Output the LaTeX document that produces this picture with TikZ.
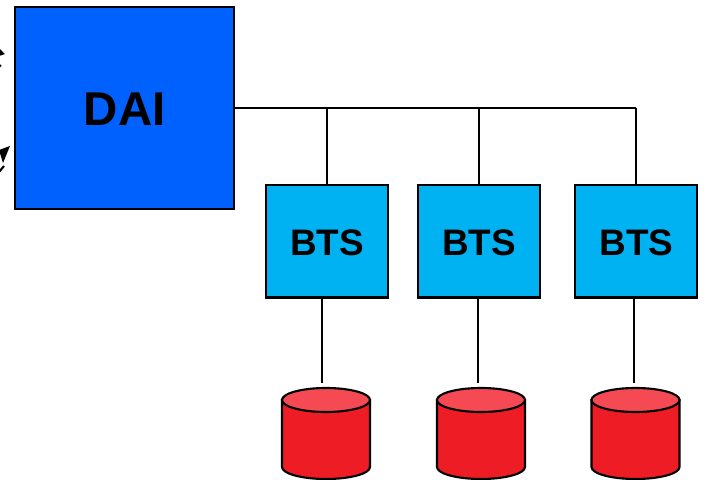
\documentclass[tikz,border=0pt]{standalone}
\usepackage{fontspec}
\setmainfont{Liberation Sans}
\usepackage{tikz}
\usetikzlibrary{calc}
\definecolor{daiblue}{HTML}{0061FF}
\definecolor{btsblue}{HTML}{00B2F2}
\definecolor{diskred}{HTML}{EE1C25}
\definecolor{disktop}{HTML}{F54A53}
\tikzset{
  daibox/.style={draw, line width=1.2pt, fill=daiblue, minimum width=124.6pt, minimum height=115pt, text height=20.3pt, text depth=0pt, font=\bfseries\fontsize{27}{27}\selectfont},
  btsbox/.style={draw, line width=1.2pt, fill=btsblue, minimum width=69.6pt, minimum height=64pt, text height=15.6pt, text depth=0pt, font=\bfseries\fontsize{21}{21}\selectfont},
  disk/.style={draw, line width=1.2pt, fill=diskred},
  disklid/.style={draw, line width=1.2pt, fill=disktop},
  link/.style={line width=1.2pt},
  buslink/.style={line width=1.5pt}
}

\begin{document}
\begin{tikzpicture}[x=0.02cm, y=-0.02cm]
      \useasboundingbox (0,0) rectangle (708,480);
      \clip (0,0) rectangle (708,480);

      \node[daibox] (dai) at (124.8,108) {DAI};

      \node[btsbox] (bts1) at (327,241.3) {BTS};
      \node[btsbox] (bts2) at (479,241.3) {BTS};
      \node[btsbox] (bts3) at (636.3,241.3) {BTS};

      % bus from the DAI box
      \coordinate (t1) at (bts1.north |- dai.east);
      \coordinate (t2) at (bts2.north |- dai.east);
      \coordinate (t3) at (bts3.north |- dai.east);
      \draw[buslink] (dai.east) -- (t1);
      \draw[link] (t1) -- (t3);
      \draw[link] (bts1.north) -- (t1);
      \draw[link] (bts2.north) -- (t2);
      \draw[link] (bts3.north) -- (t3);

      % lines down to the disks
      \coordinate (a1) at (322,298);
      \coordinate (b1) at (322,383);
      \coordinate (a2) at (478,298);
      \coordinate (b2) at (478,383);
      \coordinate (a3) at (634,298);
      \coordinate (b3) at (634,383);
      \draw[link] (a1) -- (b1);
      \draw[link] (a2) -- (b2);
      \draw[link] (a3) -- (b3);

      % disks
      \draw[disk] (282,400) -- (282,467) arc[start angle=180, end angle=360, x radius=44, y radius=-12] -- (370,400) -- cycle;
      \draw[disklid] (326,400) ellipse[x radius=44, y radius=12];
      \draw[disk] (437,400) -- (437,467) arc[start angle=180, end angle=360, x radius=44, y radius=-12] -- (525,400) -- cycle;
      \draw[disklid] (481,400) ellipse[x radius=44, y radius=12];
      \draw[disk] (591.5,400) -- (591.5,467) arc[start angle=180, end angle=360, x radius=44, y radius=-12] -- (679.5,400) -- cycle;
      \draw[disklid] (635.5,400) ellipse[x radius=44, y radius=12];

      % arrows cut off by the left edge
      \fill (-1,48) -- (5,54) -- (-1,56) -- cycle;
      \draw[link] (-1,67) -- (1,65);
      \fill (10,146) -- (-1,150) -- (3,163) -- cycle;
      \draw[link] (-1,172) -- (4,166);
    \end{tikzpicture}
\end{document}
